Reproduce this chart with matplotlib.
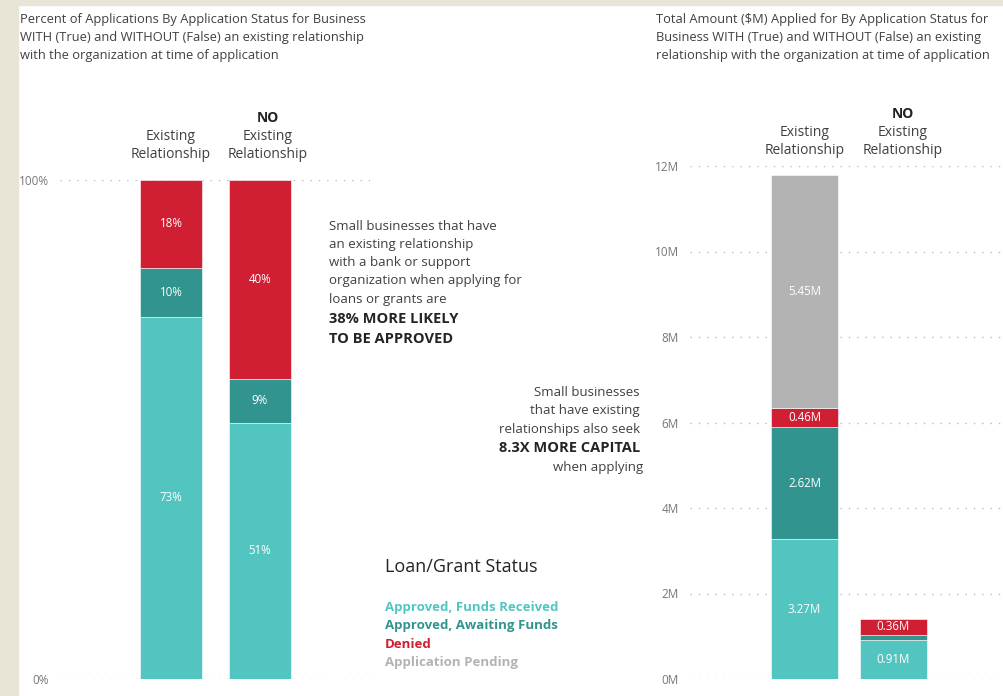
import matplotlib.pyplot as plt
from matplotlib.patches import Rectangle

plt.rcParams['font.family'] = ['Open Sans', 'DejaVu Sans']

# data
statuses = ['Approved, Funds Received', 'Approved, Awaiting Funds', 'Denied', 'Application Pending']
colors = ['#53C5C0', '#31948F', '#D01F33', '#B3B3B3']
groups = ['Existing', 'NO Existing']
pct_existing = [72.6, 9.8, 17.6, 0]
pct_no = [51.4, 8.7, 39.9, 0]
amt_existing = [3.27, 2.62, 0.46, 5.45]
amt_no = [0.91, 0.13, 0.36, 0]
amt_ticks = [0, 2, 4, 6, 8, 10, 12]

W, H = 1004, 696
fig = plt.figure(figsize=(W / 100, H / 100), dpi=100)
fig.patch.set_facecolor('white')

def fx(x):
    return x / W

def fy(y):
    return 1 - y / H

# beige frame on left and top
fig.patches.append(Rectangle((0, 0), fx(18), 1, transform=fig.transFigure, color='#E9E5D6', zorder=0))
fig.patches.append(Rectangle((0, fy(5)), 1, 1 - fy(5), transform=fig.transFigure, color='#E9E5D6', zorder=0))


def stack(ax, series_list, width, fmt, min_lab):
    for gi, vals in enumerate(series_list):
        bottom = 0
        for si, v in enumerate(vals):
            if v <= 0:
                continue
            ax.bar(gi, v, width, bottom=bottom, color=colors[si], edgecolor='white', linewidth=0.4, zorder=3)
            if v >= min_lab:
                ax.text(gi, bottom + v / 2, fmt(v), ha='center', va='center', color='white', fontsize=8.3, zorder=4)
            bottom += v


def style(ax):
    for s in ax.spines.values():
        s.set_visible(False)
    ax.set_xticks([])
    ax.tick_params(axis='y', length=0, pad=8, labelsize=8.5, labelcolor='#777777')
    ax.yaxis.grid(True, linestyle=(0, (1, 5)), color='#BBBBBB', linewidth=1)
    ax.set_axisbelow(True)
    ax.patch.set_alpha(0)


# left chart: percent
ax1 = fig.add_axes([fx(60), fy(679), fx(310), (679 - 180) / H])
stack(ax1, [pct_existing, pct_no], 62 / 89, lambda v: '%.0f%%' % v, 3)
ax1.set_ylim(0, 100)
ax1.set_xlim(-(171 - 60) / 89, 1 + (370 - 260) / 89)
ax1.set_yticks([0, 100])
ax1.set_yticklabels(['0%', '100%'])
style(ax1)

# right chart: amount
ax2 = fig.add_axes([fx(690), fy(679), fx(314), (679 - 166) / H])
stack(ax2, [amt_existing, amt_no], 67 / 89, lambda v: '%.2fM' % v, 0.2)
ax2.set_ylim(0, 12)
ax2.set_xlim(-(804.5 - 690) / 89, 1 + (1004 - 893.5) / 89)
ax2.set_yticks(amt_ticks)
ax2.set_yticklabels(['%dM' % t for t in amt_ticks])
style(ax2)

dark = '#252423'
mid = '#404040'

# titles
t1 = ['Percent of Applications By Application Status for Business',
      'WITH (True) and WITHOUT (False) an existing relationship',
      'with the organization at time of application']
t2 = ['Total Amount ($M) Applied for By Application Status for',
      'Business WITH (True) and WITHOUT (False) an existing',
      'relationship with the organization at time of application']
for i, line in enumerate(t1):
    fig.text(fx(20), fy(20 + 18 * i), line, ha='left', va='center', fontsize=9.3, color=mid)
for i, line in enumerate(t2):
    fig.text(fx(656), fy(20 + 18 * i), line, ha='left', va='center', fontsize=9.3, color=mid)

# category headers
def header(x, y_top, no):
    if no:
        fig.text(fx(x), fy(y_top), 'NO', ha='center', va='center', fontsize=10, fontweight='bold', color=dark)
    fig.text(fx(x), fy(y_top + 19), 'Existing', ha='center', va='center', fontsize=10, color=mid)
    fig.text(fx(x), fy(y_top + 37), 'Relationship', ha='center', va='center', fontsize=10, color=mid)

header(171, 118, False)
header(268, 118, True)
header(805, 114, False)
header(903, 114, True)

# annotation 1
a1 = ['Small businesses that have', 'an existing relationship', 'with a bank or support',
      'organization when applying for', 'loans or grants are']
for i, line in enumerate(a1):
    fig.text(fx(329), fy(226 + 18.3 * i), line, ha='left', va='center', fontsize=9.5, color=mid)
for i, line in enumerate(['38% MORE LIKELY', 'TO BE APPROVED']):
    fig.text(fx(329), fy(319 + 20 * i), line, ha='left', va='center', fontsize=10.5, fontweight='bold', color=dark)

# annotation 2
a2 = ['Small businesses', 'that have existing', 'relationships also seek']
for i, line in enumerate(a2):
    fig.text(fx(640), fy(392 + 18.5 * i), line, ha='right', va='center', fontsize=9.5, color=mid)
fig.text(fx(640), fy(448), '8.3X MORE CAPITAL', ha='right', va='center', fontsize=10.5, fontweight='bold', color=dark)
fig.text(fx(643), fy(468), 'when applying', ha='right', va='center', fontsize=9.5, color=mid)

# legend
fig.text(fx(385), fy(567), 'Loan/Grant Status', ha='left', va='center', fontsize=13, color=dark)
for i, (s, c) in enumerate(zip(statuses, colors)):
    fig.text(fx(385), fy(607 + 18.5 * i), s, ha='left', va='center', fontsize=9.5, fontweight='bold', color=c)

fig.savefig('out.png', dpi=100)
